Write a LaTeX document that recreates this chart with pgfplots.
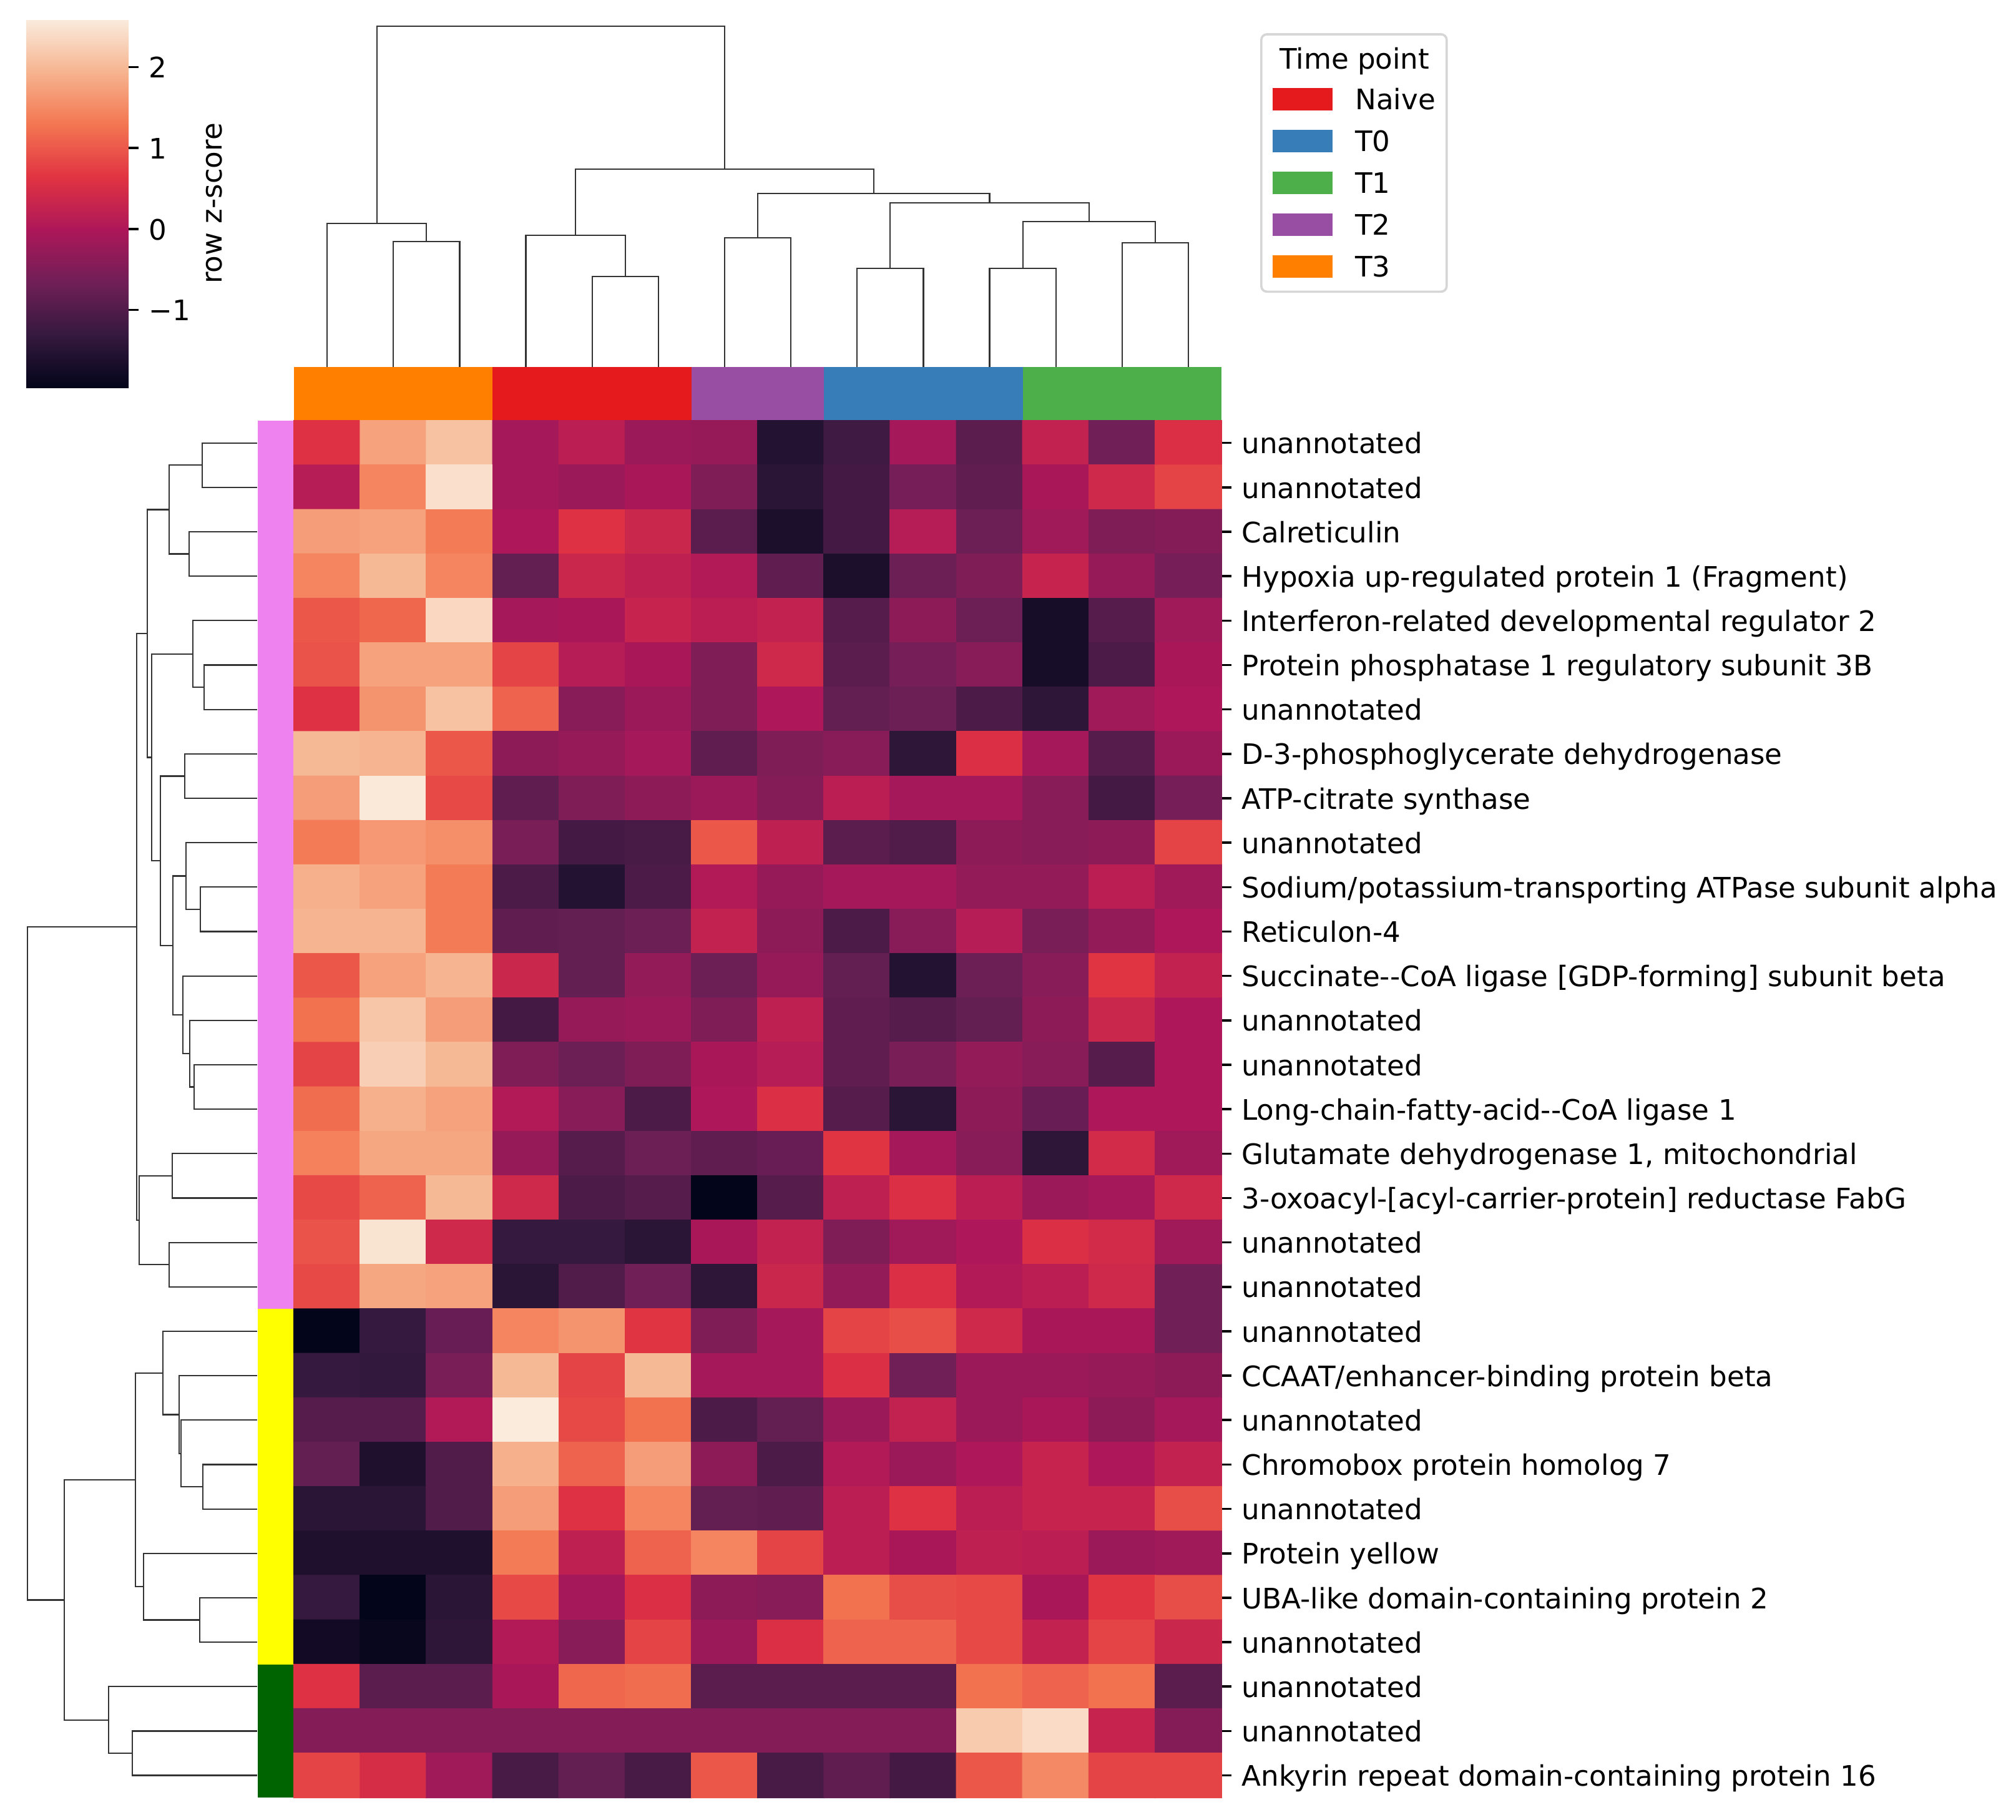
\documentclass[border=0pt]{standalone}
\usepackage{fontspec}
\setmainfont{DejaVu Sans}[Ligatures=TeXOff]
\usepackage{pgfplots}
\usepackage{pgfplotstable}
\pgfplotsset{compat=1.18}
\usetikzlibrary{calc}

% group colours (Set1) and row cluster colours
\definecolor{naive}{HTML}{E41A1C}
\definecolor{tzero}{HTML}{377EB8}
\definecolor{tone}{HTML}{4DAF4A}
\definecolor{ttwo}{HTML}{984EA3}
\definecolor{tthree}{HTML}{FF7F00}
\definecolor{rowviolet}{HTML}{EE82EE}
\definecolor{rowyellow}{HTML}{FFFF00}
\definecolor{rowgreen}{HTML}{006400}
\definecolor{dendro}{gray}{0.2}

\pgfplotsset{
  colormap={rocket}{rgb255(0)=(3,5,26) rgb255(1)=(53,25,62) rgb255(2)=(112,31,87)
    rgb255(3)=(173,23,89) rgb255(4)=(225,51,66) rgb255(5)=(243,118,81)
    rgb255(6)=(246,180,143) rgb255(7)=(250,235,221)},
  panel/.style={scale only axis, anchor=south west, enlargelimits=false, clip=false},
  dend/.style={line width=0.5pt, color=dendro, forget plot},
  cell/.style={draw=none, fill=#1, forget plot},
  patchlegend/.style={legend image code/.code={\fill[##1, sharp corners] (0pt,-4pt) rectangle (21.3pt,4pt);}},
}

% row z-scores, x = column, y = row (top to bottom)
\pgfplotstableread[row sep=\\]{
x y z \\
1 1 0.60 \\ 2 1 1.75 \\ 3 1 2.10 \\ 4 1 -0.10 \\ 5 1 0.15 \\ 6 1 -0.20 \\ 7 1 -0.25 \\ 8 1 -1.55 \\ 9 1 -1.20 \\ 10 1 -0.10 \\ 11 1 -0.90 \\ 12 1 0.25 \\ 13 1 -0.65 \\ 14 1 0.55 \\
1 2 0.10 \\ 2 2 1.45 \\ 3 2 2.45 \\ 4 2 -0.10 \\ 5 2 -0.20 \\ 6 2 -0.05 \\ 7 2 -0.50 \\ 8 2 -1.45 \\ 9 2 -1.15 \\ 10 2 -0.60 \\ 11 2 -0.85 \\ 12 2 -0.05 \\ 13 2 0.40 \\ 14 2 0.80 \\
1 3 1.70 \\ 2 3 1.75 \\ 3 3 1.35 \\ 4 3 0.00 \\ 5 3 0.60 \\ 6 3 0.35 \\ 7 3 -0.90 \\ 8 3 -1.65 \\ 9 3 -1.15 \\ 10 3 0.10 \\ 11 3 -0.70 \\ 12 3 -0.15 \\ 13 3 -0.50 \\ 14 3 -0.45 \\
1 4 1.45 \\ 2 4 2.00 \\ 3 4 1.45 \\ 4 4 -0.80 \\ 5 4 0.35 \\ 6 4 0.20 \\ 7 4 0.05 \\ 8 4 -0.85 \\ 9 4 -1.65 \\ 10 4 -0.70 \\ 11 4 -0.50 \\ 12 4 0.30 \\ 13 4 -0.25 \\ 14 4 -0.60 \\
1 5 1.00 \\ 2 5 1.15 \\ 3 5 2.35 \\ 4 5 -0.10 \\ 5 5 -0.05 \\ 6 5 0.30 \\ 7 5 0.15 \\ 8 5 0.25 \\ 9 5 -0.95 \\ 10 5 -0.35 \\ 11 5 -0.70 \\ 12 5 -1.70 \\ 13 5 -0.95 \\ 14 5 -0.15 \\
1 6 0.95 \\ 2 6 1.75 \\ 3 6 1.75 \\ 4 6 0.80 \\ 5 6 0.10 \\ 6 6 -0.05 \\ 7 6 -0.50 \\ 8 6 0.40 \\ 9 6 -0.90 \\ 10 6 -0.60 \\ 11 6 -0.40 \\ 12 6 -1.70 \\ 13 6 -1.05 \\ 14 6 -0.05 \\
1 7 0.60 \\ 2 7 1.60 \\ 3 7 2.10 \\ 4 7 1.10 \\ 5 7 -0.40 \\ 6 7 -0.20 \\ 7 7 -0.50 \\ 8 7 0.00 \\ 9 7 -0.80 \\ 10 7 -0.70 \\ 11 7 -1.05 \\ 12 7 -1.40 \\ 13 7 -0.15 \\ 14 7 0.00 \\
1 8 2.00 \\ 2 8 1.95 \\ 3 8 1.00 \\ 4 8 -0.35 \\ 5 8 -0.25 \\ 6 8 -0.10 \\ 7 8 -0.85 \\ 8 8 -0.50 \\ 9 8 -0.40 \\ 10 8 -1.40 \\ 11 8 0.55 \\ 12 8 -0.10 \\ 13 8 -0.95 \\ 14 8 -0.20 \\
1 9 1.70 \\ 2 9 2.55 \\ 3 9 0.85 \\ 4 9 -0.85 \\ 5 9 -0.50 \\ 6 9 -0.35 \\ 7 9 -0.20 \\ 8 9 -0.45 \\ 9 9 0.15 \\ 10 9 -0.10 \\ 11 9 -0.10 \\ 12 9 -0.40 \\ 13 9 -1.15 \\ 14 9 -0.60 \\
1 10 1.35 \\ 2 10 1.65 \\ 3 10 1.55 \\ 4 10 -0.55 \\ 5 10 -1.15 \\ 6 10 -1.10 \\ 7 10 1.00 \\ 8 10 0.20 \\ 9 10 -0.90 \\ 10 10 -1.00 \\ 11 10 -0.35 \\ 12 10 -0.40 \\ 13 10 -0.35 \\ 14 10 0.80 \\
1 11 1.90 \\ 2 11 1.75 \\ 3 11 1.35 \\ 4 11 -1.05 \\ 5 11 -1.55 \\ 6 11 -1.05 \\ 7 11 0.05 \\ 8 11 -0.25 \\ 9 11 -0.10 \\ 10 11 -0.10 \\ 11 11 -0.30 \\ 12 11 -0.30 \\ 13 11 0.15 \\ 14 11 -0.15 \\
1 12 1.95 \\ 2 12 1.95 \\ 3 12 1.35 \\ 4 12 -0.85 \\ 5 12 -0.80 \\ 6 12 -0.70 \\ 7 12 0.25 \\ 8 12 -0.35 \\ 9 12 -1.05 \\ 10 12 -0.40 \\ 11 12 0.10 \\ 12 12 -0.55 \\ 13 12 -0.30 \\ 14 12 0.00 \\
1 13 1.00 \\ 2 13 1.75 \\ 3 13 1.95 \\ 4 13 0.35 \\ 5 13 -0.80 \\ 6 13 -0.30 \\ 7 13 -0.70 \\ 8 13 -0.25 \\ 9 13 -0.80 \\ 10 13 -1.55 \\ 11 13 -0.70 \\ 12 13 -0.40 \\ 13 13 0.65 \\ 14 13 0.25 \\
1 14 1.25 \\ 2 14 2.15 \\ 3 14 1.70 \\ 4 14 -1.15 \\ 5 14 -0.25 \\ 6 14 -0.20 \\ 7 14 -0.50 \\ 8 14 0.20 \\ 9 14 -0.85 \\ 10 14 -0.95 \\ 11 14 -0.80 \\ 12 14 -0.35 \\ 13 14 0.35 \\ 14 14 0.00 \\
1 15 0.80 \\ 2 15 2.25 \\ 3 15 2.00 \\ 4 15 -0.50 \\ 5 15 -0.70 \\ 6 15 -0.50 \\ 7 15 -0.05 \\ 8 15 0.10 \\ 9 15 -0.85 \\ 10 15 -0.55 \\ 11 15 -0.30 \\ 12 15 -0.40 \\ 13 15 -0.95 \\ 14 15 0.00 \\
1 16 1.20 \\ 2 16 1.90 \\ 3 16 1.75 \\ 4 16 0.05 \\ 5 16 -0.40 \\ 6 16 -1.05 \\ 7 16 0.00 \\ 8 16 0.55 \\ 9 16 -0.95 \\ 10 16 -1.45 \\ 11 16 -0.35 \\ 12 16 -0.75 \\ 13 16 0.00 \\ 14 16 0.00 \\
1 17 1.40 \\ 2 17 1.80 \\ 3 17 1.80 \\ 4 17 -0.25 \\ 5 17 -0.95 \\ 6 17 -0.70 \\ 7 17 -0.85 \\ 8 17 -0.75 \\ 9 17 0.65 \\ 10 17 -0.10 \\ 11 17 -0.40 \\ 12 17 -1.40 \\ 13 17 0.45 \\ 14 17 -0.15 \\
1 18 0.85 \\ 2 18 1.10 \\ 3 18 2.00 \\ 4 18 0.40 \\ 5 18 -1.05 \\ 6 18 -0.95 \\ 7 18 -1.96 \\ 8 18 -0.95 \\ 9 18 0.20 \\ 10 18 0.55 \\ 11 18 0.15 \\ 12 18 -0.20 \\ 13 18 -0.10 \\ 14 18 0.40 \\
1 19 0.95 \\ 2 19 2.50 \\ 3 19 0.40 \\ 4 19 -1.30 \\ 5 19 -1.30 \\ 6 19 -1.45 \\ 7 19 -0.05 \\ 8 19 0.25 \\ 9 19 -0.50 \\ 10 19 -0.15 \\ 11 19 0.00 \\ 12 19 0.55 \\ 13 19 0.45 \\ 14 19 -0.15 \\
1 20 0.85 \\ 2 20 1.80 \\ 3 20 1.75 \\ 4 20 -1.45 \\ 5 20 -1.00 \\ 6 20 -0.65 \\ 7 20 -1.40 \\ 8 20 0.35 \\ 9 20 -0.30 \\ 10 20 0.55 \\ 11 20 0.05 \\ 12 20 0.15 \\ 13 20 0.40 \\ 14 20 -0.65 \\
1 21 -1.96 \\ 2 21 -1.30 \\ 3 21 -0.75 \\ 4 21 1.45 \\ 5 21 1.60 \\ 6 21 0.65 \\ 7 21 -0.50 \\ 8 21 -0.10 \\ 9 21 0.80 \\ 10 21 0.90 \\ 11 21 0.40 \\ 12 21 -0.05 \\ 13 21 -0.05 \\ 14 21 -0.65 \\
1 22 -1.30 \\ 2 22 -1.35 \\ 3 22 -0.55 \\ 4 22 2.00 \\ 5 22 0.80 \\ 6 22 2.00 \\ 7 22 -0.10 \\ 8 22 -0.10 \\ 9 22 0.55 \\ 10 22 -0.65 \\ 11 22 -0.20 \\ 12 22 -0.20 \\ 13 22 -0.25 \\ 14 22 -0.35 \\
1 23 -0.95 \\ 2 23 -0.95 \\ 3 23 0.05 \\ 4 23 2.59 \\ 5 23 0.85 \\ 6 23 1.25 \\ 7 23 -1.05 \\ 8 23 -0.80 \\ 9 23 -0.20 \\ 10 23 0.25 \\ 11 23 -0.20 \\ 12 23 -0.05 \\ 13 23 -0.35 \\ 14 23 -0.10 \\
1 24 -0.80 \\ 2 24 -1.60 \\ 3 24 -1.00 \\ 4 24 1.90 \\ 5 24 1.10 \\ 6 24 1.70 \\ 7 24 -0.35 \\ 8 24 -1.05 \\ 9 24 0.05 \\ 10 24 -0.20 \\ 11 24 0.00 \\ 12 24 0.30 \\ 13 24 0.00 \\ 14 24 0.25 \\
1 25 -1.45 \\ 2 25 -1.45 \\ 3 25 -1.00 \\ 4 25 1.70 \\ 5 25 0.60 \\ 6 25 1.45 \\ 7 25 -0.80 \\ 8 25 -0.85 \\ 9 25 0.15 \\ 10 25 0.60 \\ 11 25 0.15 \\ 12 25 0.30 \\ 13 25 0.30 \\ 14 25 0.90 \\
1 26 -1.60 \\ 2 26 -1.60 \\ 3 26 -1.60 \\ 4 26 1.35 \\ 5 26 0.20 \\ 6 26 1.10 \\ 7 26 1.45 \\ 8 26 0.80 \\ 9 26 0.15 \\ 10 26 -0.05 \\ 11 26 0.20 \\ 12 26 0.15 \\ 13 26 -0.20 \\ 14 26 -0.15 \\
1 27 -1.30 \\ 2 27 -1.96 \\ 3 27 -1.45 \\ 4 27 0.85 \\ 5 27 -0.10 \\ 6 27 0.55 \\ 7 27 -0.35 \\ 8 27 -0.40 \\ 9 27 1.25 \\ 10 27 0.90 \\ 11 27 0.85 \\ 12 27 -0.05 \\ 13 27 0.65 \\ 14 27 0.90 \\
1 28 -1.75 \\ 2 28 -1.90 \\ 3 28 -1.40 \\ 4 28 0.05 \\ 5 28 -0.40 \\ 6 28 0.80 \\ 7 28 -0.20 \\ 8 28 0.55 \\ 9 28 1.10 \\ 10 28 1.10 \\ 11 28 0.85 \\ 12 28 0.25 \\ 13 28 0.80 \\ 14 28 0.35 \\
1 29 0.60 \\ 2 29 -0.90 \\ 3 29 -0.90 \\ 4 29 -0.05 \\ 5 29 1.15 \\ 6 29 1.20 \\ 7 29 -0.90 \\ 8 29 -0.90 \\ 9 29 -0.90 \\ 10 29 -0.90 \\ 11 29 1.25 \\ 12 29 1.10 \\ 13 29 1.25 \\ 14 29 -0.90 \\
1 30 -0.45 \\ 2 30 -0.45 \\ 3 30 -0.45 \\ 4 30 -0.45 \\ 5 30 -0.45 \\ 6 30 -0.45 \\ 7 30 -0.45 \\ 8 30 -0.45 \\ 9 30 -0.45 \\ 10 30 -0.45 \\ 11 30 2.20 \\ 12 30 2.40 \\ 13 30 0.30 \\ 14 30 -0.45 \\
1 31 0.80 \\ 2 31 0.50 \\ 3 31 -0.15 \\ 4 31 -1.10 \\ 5 31 -0.80 \\ 6 31 -1.10 \\ 7 31 1.00 \\ 8 31 -1.10 \\ 9 31 -0.85 \\ 10 31 -1.15 \\ 11 31 1.00 \\ 12 31 1.50 \\ 13 31 0.80 \\ 14 31 0.80 \\
}\heatdata

\begin{document}
\begin{tikzpicture}
\path[use as bounding box] (0,0) rectangle (715.1pt,645.4pt);

% heatmap with row labels and colour bar
\begin{axis}[panel, at={(104.28pt,7.75pt)}, width=329pt, height=488.41pt,
  xmin=0.5, xmax=14.5, ymin=0.5, ymax=31.5, y dir=reverse,
  colormap name=rocket, point meta min=-1.96, point meta max=2.59,
  axis line style={draw=none}, xtick=\empty,
  ytick={1,...,31},
  yticklabels={unannotated,unannotated,Calreticulin,
    {Hypoxia up-regulated protein 1 (Fragment)},
    {Interferon-related developmental regulator 2},
    {Protein phosphatase 1 regulatory subunit 3B},
    unannotated,{D-3-phosphoglycerate dehydrogenase},{ATP-citrate synthase},unannotated,
    {Sodium/potassium-transporting ATPase subunit alpha},{Reticulon-4},
    {Succinate--CoA ligase [GDP-forming] subunit beta},unannotated,unannotated,
    {Long-chain-fatty-acid--CoA ligase 1},{Glutamate dehydrogenase 1, mitochondrial},
    {3-oxoacyl-[acyl-carrier-protein] reductase FabG},unannotated,unannotated,
    unannotated,{CCAAT/enhancer-binding protein beta},unannotated,
    {Chromobox protein homolog 7},unannotated,{Protein yellow},
    {UBA-like domain-containing protein 2},unannotated,unannotated,unannotated,
    {Ankyrin repeat domain-containing protein 16}},
  ytick pos=right, yticklabel pos=right, tick align=outside,
  major tick length=3.5pt, ytick style={black, line width=0.8pt},
  yticklabel style={anchor=base west, inner sep=0pt, xshift=3.5pt, yshift=-3.8pt, font=\normalsize},
  colorbar,
  colorbar/width=36.31pt,
  colorbar shift/.style={},
  colorbar style={
    at={($(parent axis.north west)+(-94.98pt,11.74pt)$)}, anchor=south west,
    scale only axis, width=36.31pt, height=130.63pt, y dir=normal,
    axis line style={draw=none},
    ytick={-1,0,1,2}, yticklabels={−1,0,1,2},
    ytick pos=right, yticklabel pos=right, tick align=outside,
    major tick length=3.5pt, ytick style={black, line width=0.8pt},
    yticklabel style={anchor=base west, inner sep=0pt, xshift=3.5pt, yshift=-3.8pt, font=\normalsize},
    ylabel={row z-score},
    ylabel style={at={(axis description cs:1.835,0.5)}, anchor=center, font=\normalsize},
  },
]
\addplot[matrix plot*, mesh/cols=14, point meta=explicit, draw=none] table[x=x, y=y, meta=z] {\heatdata};
\end{axis}

% column colours
\begin{axis}[panel, hide axis, at={(104.28pt,496.38pt)}, width=329pt, height=18.82pt,
  xmin=0.5, xmax=14.5, ymin=0, ymax=1]
\addplot[cell=tthree] coordinates {(0.5,0) (3.5,0) (3.5,1) (0.5,1)} -- cycle;
\addplot[cell=naive] coordinates {(3.5,0) (6.5,0) (6.5,1) (3.5,1)} -- cycle;
\addplot[cell=ttwo] coordinates {(6.5,0) (8.5,0) (8.5,1) (6.5,1)} -- cycle;
\addplot[cell=tzero] coordinates {(8.5,0) (11.5,0) (11.5,1) (8.5,1)} -- cycle;
\addplot[cell=tone] coordinates {(11.5,0) (14.5,0) (14.5,1) (11.5,1)} -- cycle;
\end{axis}

% column dendrogram and legend
\begin{axis}[panel, hide axis, at={(104.28pt,515.2pt)}, width=329pt, height=120.88pt,
  xmin=0.5, xmax=14.5, ymin=0, ymax=546,
  legend cell align=left,
  legend style={at={(1.0417,0.9797)}, anchor=north west, fill=white,
    draw=black!16, line width=0.8pt, rounded corners=2pt,
    inner xsep=4pt, inner ysep=5pt, row sep=6.8pt, column sep=8pt,
    nodes={inner sep=0pt, text height=7.3pt, text depth=0pt, font=\normalsize}},
]
\addplot[dend] coordinates {(2,0) (2,201) (3,201) (3,0)};
\addplot[dend] coordinates {(1,0) (1,230) (2.5,230) (2.5,201)};
\addplot[dend] coordinates {(5,0) (5,145) (6,145) (6,0)};
\addplot[dend] coordinates {(4,0) (4,211) (5.5,211) (5.5,145)};
\addplot[dend] coordinates {(7,0) (7,207) (8,207) (8,0)};
\addplot[dend] coordinates {(9,0) (9,158) (10,158) (10,0)};
\addplot[dend] coordinates {(11,0) (11,158) (12,158) (12,0)};
\addplot[dend] coordinates {(13,0) (13,199) (14,199) (14,0)};
\addplot[dend] coordinates {(11.5,158) (11.5,233) (13.5,233) (13.5,199)};
\addplot[dend] coordinates {(9.5,158) (9.5,263) (12.5,263) (12.5,233)};
\addplot[dend] coordinates {(7.5,207) (7.5,278) (11,278) (11,263)};
\addplot[dend] coordinates {(4.75,211) (4.75,317) (9.25,317) (9.25,278)};
\addplot[dend] coordinates {(1.75,230) (1.75,546) (7,546) (7,317)};
\addlegendimage{empty legend}
\addlegendentry{\hspace*{-26.8pt}Time point}
\addlegendimage{patchlegend, fill=naive, draw=none}
\addlegendentry{Naive}
\addlegendimage{patchlegend, fill=tzero, draw=none}
\addlegendentry{T0}
\addlegendimage{patchlegend, fill=tone, draw=none}
\addlegendentry{T1}
\addlegendimage{patchlegend, fill=ttwo, draw=none}
\addlegendentry{T2}
\addlegendimage{patchlegend, fill=tthree, draw=none}
\addlegendentry{T3}
\end{axis}

% row colours
\begin{axis}[panel, hide axis, at={(91.44pt,7.75pt)}, width=12.62pt, height=488.41pt,
  xmin=0, xmax=1, ymin=0.5, ymax=31.5, y dir=reverse]
\addplot[cell=rowviolet] coordinates {(0,0.5) (1,0.5) (1,20.5) (0,20.5)} -- cycle;
\addplot[cell=rowyellow] coordinates {(0,20.5) (1,20.5) (1,28.5) (0,28.5)} -- cycle;
\addplot[cell=rowgreen] coordinates {(0,28.5) (1,28.5) (1,31.5) (0,31.5)} -- cycle;
\end{axis}

% row dendrogram
\begin{axis}[panel, hide axis, at={(9.74pt,7.75pt)}, width=81.48pt, height=488.41pt,
  xmin=0, xmax=368, x dir=reverse, ymin=0.5, ymax=31.5, y dir=reverse]
\addplot[dend] coordinates {(0,1) (88,1) (88,2) (0,2)};
\addplot[dend] coordinates {(0,3) (108.7,3) (108.7,4) (0,4)};
\addplot[dend] coordinates {(88,1.5) (141.3,1.5) (141.3,3.5) (108.7,3.5)};
\addplot[dend] coordinates {(0,6) (84.7,6) (84.7,7) (0,7)};
\addplot[dend] coordinates {(0,5) (103,5) (103,6.5) (84.7,6.5)};
\addplot[dend] coordinates {(0,8) (116.3,8) (116.3,9) (0,9)};
\addplot[dend] coordinates {(0,11) (91,11) (91,12) (0,12)};
\addplot[dend] coordinates {(0,10) (114.3,10) (114.3,11.5) (91,11.5)};
\addplot[dend] coordinates {(0,15) (101,15) (101,16) (0,16)};
\addplot[dend] coordinates {(0,14) (107.7,14) (107.7,15.5) (101,15.5)};
\addplot[dend] coordinates {(0,13) (118.7,13) (118.7,14.75) (107.7,14.75)};
\addplot[dend] coordinates {(114.3,10.75) (134.7,10.75) (134.7,13.875) (118.7,13.875)};
\addplot[dend] coordinates {(116.3,8.5) (154.7,8.5) (154.7,12.3125) (134.7,12.3125)};
\addplot[dend] coordinates {(103,5.75) (168.7,5.75) (168.7,10.406) (154.7,10.406)};
\addplot[dend] coordinates {(141.3,2.5) (176.3,2.5) (176.3,8.078) (168.7,8.078)};
\addplot[dend] coordinates {(0,17) (136,17) (136,18) (0,18)};
\addplot[dend] coordinates {(0,19) (141.3,19) (141.3,20) (0,20)};
\addplot[dend] coordinates {(136,17.5) (188.7,17.5) (188.7,19.5) (141.3,19.5)};
\addplot[dend] coordinates {(176.3,5.289) (192.7,5.289) (192.7,18.5) (188.7,18.5)};
\addplot[dend] coordinates {(0,24) (87,24) (87,25) (0,25)};
\addplot[dend] coordinates {(0,23) (122,23) (122,24.5) (87,24.5)};
\addplot[dend] coordinates {(0,22) (125.3,22) (125.3,23.75) (122,23.75)};
\addplot[dend] coordinates {(0,21) (151.3,21) (151.3,22.875) (125.3,22.875)};
\addplot[dend] coordinates {(0,27) (92,27) (92,28) (0,28)};
\addplot[dend] coordinates {(0,26) (182,26) (182,27.5) (92,27.5)};
\addplot[dend] coordinates {(151.3,21.9375) (195,21.9375) (195,26.75) (182,26.75)};
\addplot[dend] coordinates {(0,30) (200.3,30) (200.3,31) (0,31)};
\addplot[dend] coordinates {(0,29) (237.7,29) (237.7,30.5) (200.3,30.5)};
\addplot[dend] coordinates {(195,24.34) (308.7,24.34) (308.7,29.75) (237.7,29.75)};
\addplot[dend] coordinates {(192.7,11.895) (368,11.895) (368,27.05) (308.7,27.05)};
\end{axis}
\end{tikzpicture}
\end{document}
